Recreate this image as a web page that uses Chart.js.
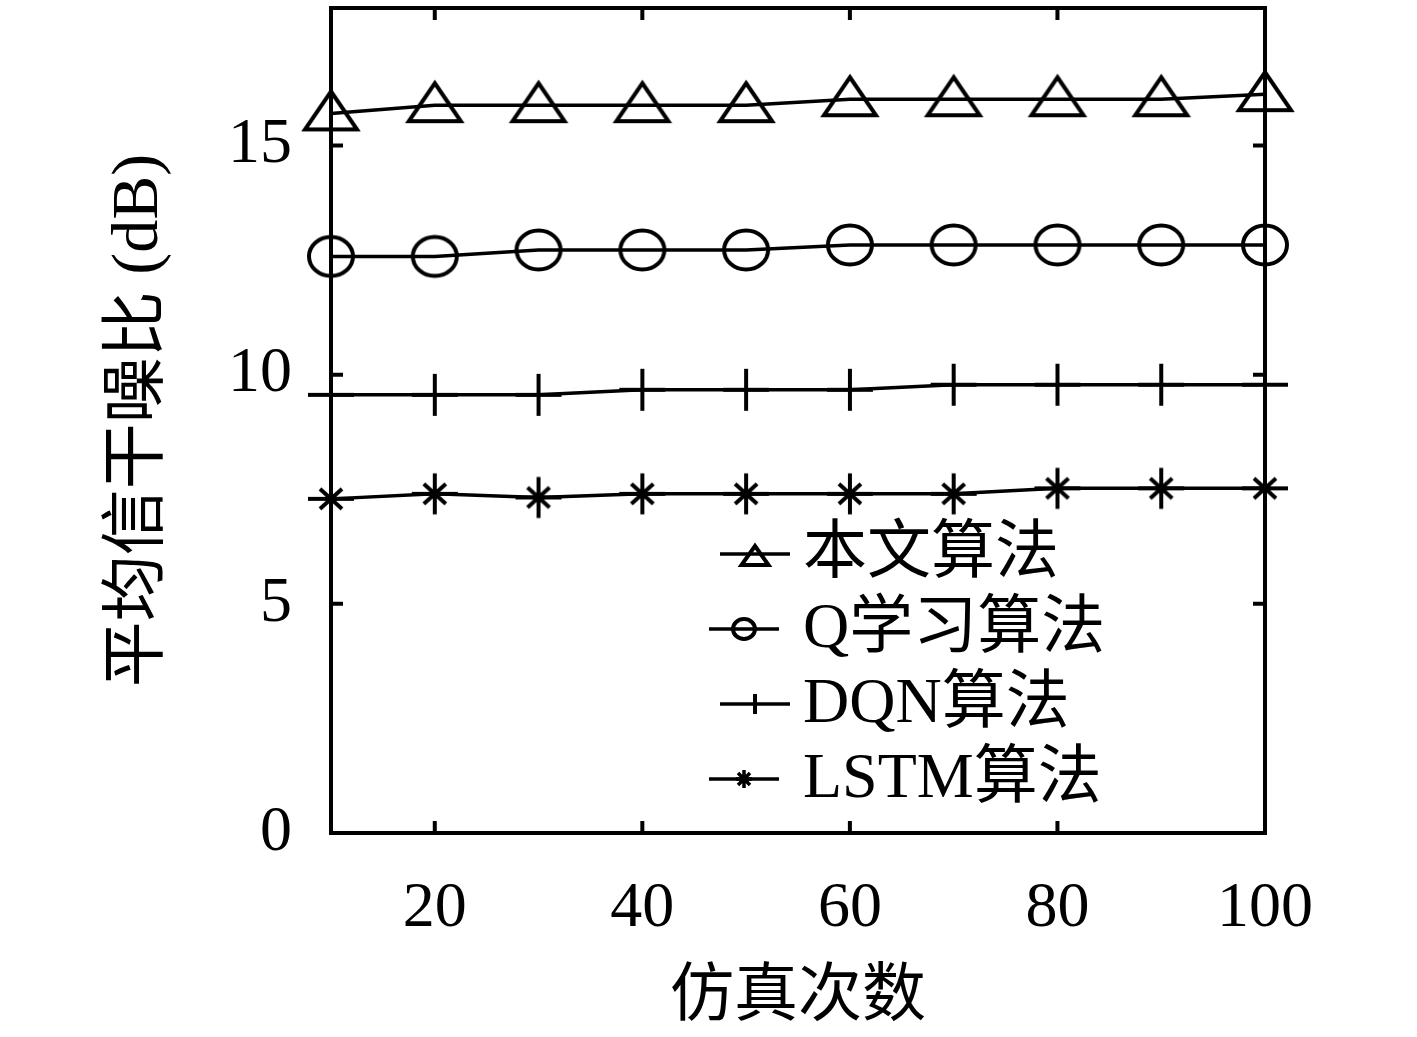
<!DOCTYPE html>
<html><head><meta charset="utf-8">
<script src="https://cdn.jsdelivr.net/npm/chart.js@4.4.1/dist/chart.umd.min.js"></script>
<style>html,body{margin:0;padding:0;background:#fff;} #wrap{width:1417px;height:1037px;}</style>
</head><body><div id="wrap"><canvas id="c" width="1417" height="1037"></canvas></div>
<script>
// ---- data ----
const simCounts = [10, 20, 30, 40, 50, 60, 70, 80, 90, 100];
const proposedSINR = [15.70, 15.88, 15.88, 15.88, 15.88, 16.01, 16.01, 16.01, 16.01, 16.12];
const qLearningSINR = [12.58, 12.58, 12.72, 12.72, 12.72, 12.83, 12.83, 12.83, 12.83, 12.83];
const dqnSINR = [9.56, 9.56, 9.56, 9.67, 9.67, 9.67, 9.78, 9.78, 9.78, 9.78];
const lstmSINR = [7.29, 7.40, 7.32, 7.40, 7.40, 7.40, 7.40, 7.52, 7.52, 7.52];
const seriesLabels = ['本文算法', 'Q学习算法', 'DQN算法', 'LSTM算法'];
const xTickValues = [20, 40, 60, 80, 100];
const yTickValues = [0, 5, 10, 15];
const xTitle = '仿真次数';
const yTitle = '平均信干噪比 (dB)';

// ---- styles ----
const FONT = "'Liberation Serif', 'Noto Sans CJK SC', serif";
const FS = 64;

function mk(kind, o) {
  const c = document.createElement('canvas');
  c.width = o.cw; c.height = o.ch;
  const g = c.getContext('2d');
  g.strokeStyle = '#000'; g.lineWidth = o.lw; g.lineJoin = 'miter'; g.lineCap = 'butt';
  const cx = o.cw / 2, cy = o.ch / 2;
  g.beginPath();
  if (kind === 'tri') {
    g.moveTo(cx, cy - o.up); g.lineTo(cx + o.w / 2, cy + o.down); g.lineTo(cx - o.w / 2, cy + o.down); g.closePath();
  } else if (kind === 'ell') {
    g.ellipse(cx, cy, o.w / 2, o.h / 2, 0, 0, Math.PI * 2);
  } else if (kind === 'plus') {
    if (o.w) { g.moveTo(cx - o.w / 2, cy); g.lineTo(cx + o.w / 2, cy); }
    g.moveTo(cx, cy - o.h / 2); g.lineTo(cx, cy + o.h / 2);
  } else if (kind === 'star') {
    g.moveTo(cx - o.w / 2, cy); g.lineTo(cx + o.w / 2, cy);
    g.moveTo(cx, cy - o.h / 2); g.lineTo(cx, cy + o.h / 2);
    g.moveTo(cx - o.dx, cy - o.dy); g.lineTo(cx + o.dx, cy + o.dy);
    g.moveTo(cx - o.dx, cy + o.dy); g.lineTo(cx + o.dx, cy - o.dy);
  }
  g.stroke();
  return c;
}
const plotMarkers = [
  mk('tri', {cw: 72, ch: 60, lw: 4, w: 52, up: 22, down: 16}),
  mk('ell', {cw: 56, ch: 52, lw: 4, w: 44, h: 39}),
  mk('plus', {cw: 52, ch: 48, lw: 4, w: 46, h: 42}),
  mk('star', {cw: 52, ch: 48, lw: 4, w: 46, h: 41, dx: 11, dy: 10})
];
const legendMarkers = [
  mk('tri', {cw: 40, ch: 36, lw: 4, w: 27, up: 8, down: 11}),
  mk('ell', {cw: 32, ch: 30, lw: 4, w: 22, h: 20}),
  mk('plus', {cw: 20, ch: 28, lw: 4, w: 0, h: 20}),
  mk('star', {cw: 24, ch: 26, lw: 3.5, w: 16, h: 18, dx: 6, dy: 6})
];
const seriesValues = [proposedSINR, qLearningSINR, dqnSINR, lstmSINR];

const datasets = seriesValues.map((vals, i) => ({
  label: seriesLabels[i],
  data: simCounts.map((x, j) => ({x: x, y: vals[j]})),
  borderColor: '#000',
  backgroundColor: '#000',
  borderWidth: 3.5,
  pointStyle: plotMarkers[i],
  pointRadius: 12,
  tension: 0,
  fill: false,
  clip: false
}));

const framePlugin = {
  id: 'frame',
  afterDraw(chart) {
    const {ctx, chartArea: a, scales: {x, y}} = chart;
    ctx.save();
    ctx.strokeStyle = '#000'; ctx.lineWidth = 4;
    ctx.strokeRect(a.left, a.top, a.right - a.left, a.bottom - a.top);
    const L = 12;
    ctx.beginPath();
    xTickValues.forEach(v => {
      const px = x.getPixelForValue(v);
      ctx.moveTo(px, a.bottom); ctx.lineTo(px, a.bottom - L);
      ctx.moveTo(px, a.top); ctx.lineTo(px, a.top + L);
    });
    yTickValues.forEach(v => {
      const py = y.getPixelForValue(v);
      ctx.moveTo(a.left, py); ctx.lineTo(a.left + L, py);
      ctx.moveTo(a.right, py); ctx.lineTo(a.right - L, py);
    });
    ctx.stroke();
    // legend
    const rows = [
      {x0: 389, x1: 459, y: 546},
      {x0: 378, x1: 448, y: 621},
      {x0: 389, x1: 459, y: 696},
      {x0: 378, x1: 448, y: 771}
    ];
    ctx.font = FS + 'px ' + FONT;
    ctx.fillStyle = '#000';
    ctx.textAlign = 'left';
    ctx.textBaseline = 'middle';
    chart.data.datasets.forEach((ds, i) => {
      const r = rows[i];
      const yy = a.top + r.y;
      ctx.beginPath();
      ctx.lineWidth = 3.5;
      ctx.moveTo(a.left + r.x0, yy); ctx.lineTo(a.left + r.x1, yy);
      ctx.stroke();
      const m = legendMarkers[i];
      const cx = a.left + (r.x0 + r.x1) / 2;
      ctx.drawImage(m, cx - m.width / 2, yy - m.height / 2);
      ctx.fillText(ds.label, a.left + 472, yy + 1);
    });
    ctx.restore();
  }
};

new Chart(document.getElementById('c'), {
  type: 'line',
  data: {datasets: datasets},
  options: {
    responsive: false,
    animation: false,
    events: [],
    layout: {autoPadding: false, padding: {left: 0, right: 152, top: 8, bottom: 0}},
    plugins: {legend: {display: false}, tooltip: {enabled: false}},
    scales: {
      x: {
        type: 'linear', position: 'bottom', min: 10, max: 100,
        grid: {display: false, drawTicks: false},
        border: {display: false},
        afterBuildTicks(s) { s.ticks = xTickValues.map(v => ({value: v})); },
        afterFit(s) { s.height = 204; s.paddingLeft = 0; s.paddingRight = 0; },
        ticks: {color: '#000', font: {family: FONT, size: FS}, padding: 38, maxRotation: 0, autoSkip: false},
        title: {display: true, text: xTitle, color: '#000', font: {family: FONT, size: FS}, padding: {top: 0, bottom: 0}}
      },
      y: {
        type: 'linear', position: 'left', min: 0, max: 18,
        grid: {display: false, drawTicks: false},
        border: {display: false},
        afterBuildTicks(s) { s.ticks = yTickValues.map(v => ({value: v})); },
        afterFit(s) { s.width = 331; s.paddingTop = 0; s.paddingBottom = 0; },
        ticks: {color: '#000', font: {family: FONT, size: FS}, padding: 39},
        title: {display: true, text: yTitle, color: '#000', font: {family: FONT, size: 66}, padding: {top: 100, bottom: 0}}
      }
    }
  },
  plugins: [framePlugin]
});
</script>
</body></html>
